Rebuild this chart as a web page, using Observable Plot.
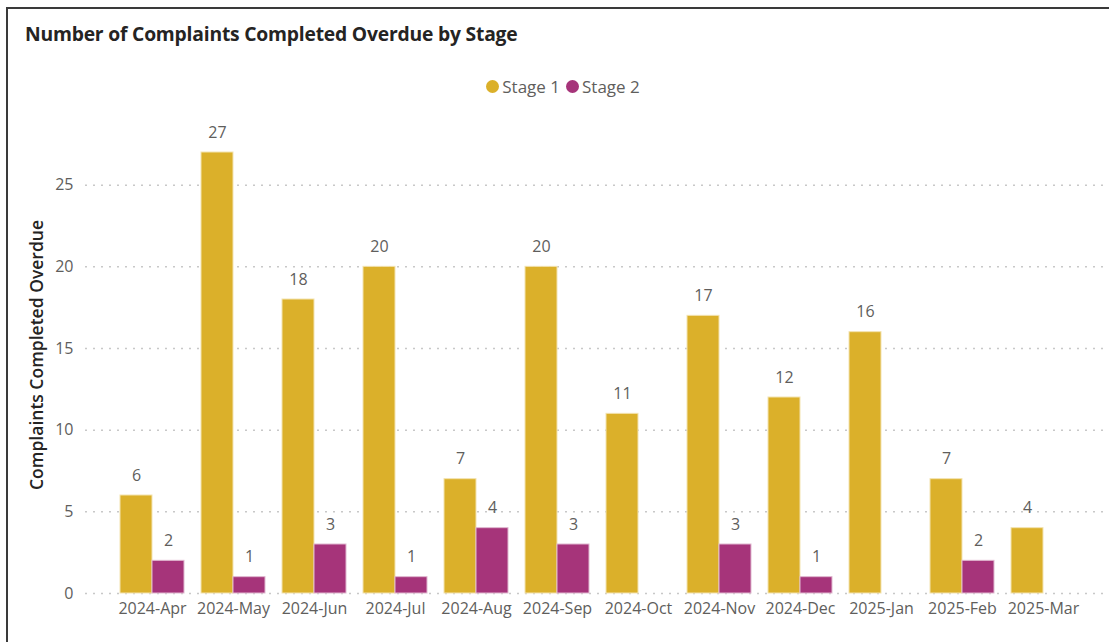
<!DOCTYPE html>
<html>
<head>
<meta charset="utf-8">
<script src="https://cdn.jsdelivr.net/npm/d3@7"></script>
<script src="https://cdn.jsdelivr.net/npm/@observablehq/plot@0.6"></script>
<style>
  html, body { margin: 0; padding: 0; background: #fff; width: 1109px; height: 642px; overflow: hidden; }
  body { position: relative; font-family: "Open Sans", "Noto Sans", sans-serif; }
  #frame { position: absolute; left: 6px; top: 7px; width: 1110px; height: 640px; border-top: 2px solid #3a3a3a; border-left: 2px solid #3a3a3a; box-sizing: border-box; }
  #title { position: absolute; left: 25px; top: 20px; font-size: 19.3px; font-weight: 700; color: #252423; white-space: nowrap; letter-spacing: -0.2px; }
  #legend { position: absolute; left: 0; width: 1126px; top: 75px; text-align: center; font-size: 17px; color: #605e5c; }
  #legend span.item { display: inline-flex; align-items: center; margin: 0 3px; }
  #legend span.dot { display: inline-block; width: 13px; height: 13px; border-radius: 50%; margin-right: 3px; }
  #chart { position: absolute; left: 0; top: 110px; }
</style>
</head>
<body>
<div id="frame"></div>
<div id="title">Number of Complaints Completed Overdue by Stage</div>
<div id="legend"></div>
<div id="chart"></div>
<script>
const months = ["2024-Apr","2024-May","2024-Jun","2024-Jul","2024-Aug","2024-Sep","2024-Oct","2024-Nov","2024-Dec","2025-Jan","2025-Feb","2025-Mar"];
const stage1 = [6,27,18,20,7,20,11,17,12,16,7,4];
const stage2 = [2,1,3,1,4,3,0,3,1,0,2,0];
const seriesNames = ["Stage 1","Stage 2"];
const seriesColors = ["#DBB02A","#A6347A"];
const yTicks = [0,5,10,15,20,25];
const yLabel = "Complaints Completed Overdue";
const chartTitle = "Number of Complaints Completed Overdue by Stage";

document.getElementById("title").textContent = chartTitle;
const legend = document.getElementById("legend");
seriesNames.forEach((n, i) => {
  const item = document.createElement("span");
  item.className = "item";
  const dot = document.createElement("span");
  dot.className = "dot";
  dot.style.background = seriesColors[i];
  item.appendChild(dot);
  item.appendChild(document.createTextNode(n));
  legend.appendChild(item);
});

const s1 = months.map((m, i) => ({month: m, value: stage1[i], stage: seriesNames[0]}));
const s2 = months.map((m, i) => ({month: m, value: stage2[i], stage: seriesNames[1]})).filter(d => d.value > 0);

const W = 1109, H = 532;
const halfBand = 32;
const fs = 16;

const chart = Plot.plot({
  width: W,
  height: H,
  marginLeft: 85,
  marginRight: 0,
  marginTop: 42,
  marginBottom: 49,
  style: {fontFamily: "'Open Sans', 'Noto Sans', sans-serif", fontSize: fs + "px", color: "#605e5c", background: "transparent"},
  x: {domain: months, paddingInner: 0.21, paddingOuter: 0.418, label: null},
  y: {domain: [0, 27], label: null},
  color: {domain: seriesNames, range: seriesColors},
  marks: [
    Plot.gridY(yTicks, {stroke: "#c8c8c8", strokeOpacity: 1, strokeDasharray: "2,6", strokeWidth: 1.5}),
    Plot.axisY(yTicks, {tickSize: 0, tickPadding: 12, fontSize: fs, fill: "#605e5c", label: null}),
    Plot.axisX({tickSize: 0, tickPadding: 9, fontSize: fs, fill: "#605e5c", label: null}),
    Plot.barY(s1, {x: "month", y: "value", fill: "stage", insetRight: halfBand, stroke: "#f3e3b0", strokeWidth: 1}),
    Plot.barY(s2, {x: "month", y: "value", fill: "stage", insetLeft: halfBand, stroke: "#e0b8d0", strokeWidth: 1}),
    Plot.text(s1, {x: "month", y: "value", text: d => String(d.value), dx: -16, dy: -20, fill: "#605e5c", fontSize: fs}),
    Plot.text(s2, {x: "month", y: "value", text: d => String(d.value), dx: 16, dy: -20, fill: "#605e5c", fontSize: fs})
  ]
});
document.getElementById("chart").appendChild(chart);

// y axis title as rotated HTML text
const yl = document.createElement("div");
yl.textContent = yLabel;
yl.style.cssText = "position:absolute;left:36px;top:355px;transform:translate(-50%,-50%) rotate(-90deg);font-size:17.5px;font-weight:600;color:#252423;white-space:nowrap;";
document.body.appendChild(yl);
</script>
</body>
</html>
